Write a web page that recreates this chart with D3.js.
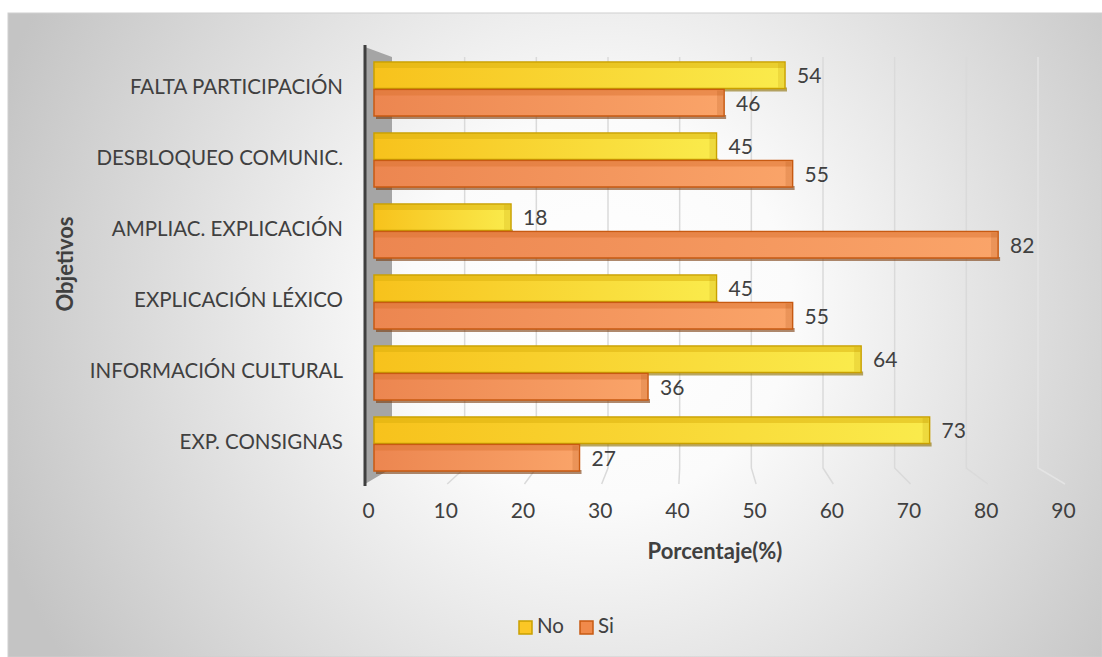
<!DOCTYPE html>
<html><head><meta charset="utf-8">
<script src="https://cdn.jsdelivr.net/npm/d3@7"></script>
<style>html,body{margin:0;padding:0;background:#fff;}svg{display:block;}</style>
</head><body><svg id="chart" width="1102" height="657"></svg>
<script>
const categories = ["FALTA PARTICIPACIÓN","DESBLOQUEO COMUNIC.","AMPLIAC. EXPLICACIÓN","EXPLICACIÓN LÉXICO","INFORMACIÓN CULTURAL","EXP. CONSIGNAS"];
const seriesNames = ["No","Si"];
const noValues = [54,45,18,45,64,73];
const siValues = [46,55,82,55,36,27];
const tickValues = [0,10,20,30,40,50,60,70,80,90];
const xTitle = "Porcentaje(%)";
const yTitle = "Objetivos";

const svg = d3.select("#chart");
const defs = svg.append("defs");
const W = 1102, H = 657;
const font = "Lato, 'Open Sans', sans-serif";

// background
const bg = defs.append("radialGradient").attr("id","bg").attr("gradientUnits","userSpaceOnUse")
  .attr("cx",600).attr("cy",310).attr("r",640);
bg.append("stop").attr("offset","0").attr("stop-color","#ffffff");
bg.append("stop").attr("offset","0.3").attr("stop-color","#fbfbfb");
bg.append("stop").attr("offset","1").attr("stop-color","#c4c4c4");
svg.append("rect").attr("x",8).attr("y",13).attr("width",W-8).attr("height",H-13)
  .attr("fill","url(#bg)").attr("stroke","#cfcfcf").attr("stroke-width",1);

// scales
const xBar = d3.scaleLinear().domain([0,90]).range([374,1059]);
const xBack = d3.scaleLinear().domain([0,90]).range([393,1038]);
const xFront = d3.scaleLinear().domain([0,90]).range([368,1063]);
const y = d3.scaleBand().domain(categories).range([54,480]).paddingInner(16/71).paddingOuter(8/71);
const ys = d3.scaleBand().domain(seriesNames).range([0,y.bandwidth()]);
const backTop = 57, backBottom = 468, frontBottom = 484;

// gridlines (back wall + floor)
const grid = svg.append("g");
tickValues.forEach(v => {
  if (v === 0) return;
  grid.append("path")
    .attr("d", `M${xBack(v)},${backTop}L${xBack(v)},${backBottom}L${xFront(v)+2},${frontBottom}`)
    .attr("fill","none").attr("stroke", v===90 ? "#e4e4e4" : "#dadada").attr("stroke-width",1.5);
});

// side wall
svg.append("path").attr("d",`M365,47L${xBack(0)-1},${backTop}L${xBack(0)-1},${backBottom}L365,${frontBottom}Z`)
  .attr("fill","#a5a5a5");
svg.append("line").attr("x1",365).attr("x2",365).attr("y1",45).attr("y2",486)
  .attr("stroke","#3f3f3f").attr("stroke-width",3);

// gradients for bars
function lg(id, c0, c1) {
  const g = defs.append("linearGradient").attr("id",id).attr("x1","0").attr("x2","1").attr("y1","0").attr("y2","0");
  g.append("stop").attr("offset","0").attr("stop-color",c0);
  g.append("stop").attr("offset","1").attr("stop-color",c1);
}
lg("gNo","#f7c21c","#faeb4c");
lg("gSi","#ec8650","#faa469");
const style = {
  No: {fill:"url(#gNo)", stroke:"#c9a000", top:"#d8ac0c", side:"#b89100"},
  Si: {fill:"url(#gSi)", stroke:"#c75a12", top:"#d9702e", side:"#a9500f"}
};

const data = [];
categories.forEach((c,i) => {
  data.push({cat:c, s:"No", v:noValues[i]});
  data.push({cat:c, s:"Si", v:siValues[i]});
});

const bars = svg.append("g");
data.forEach(d => {
  const st = style[d.s];
  const y0 = y(d.cat) + ys(d.s), h = ys.bandwidth();
  const x0 = xBar(0), x1 = xBar(d.v);
  const g = bars.append("g");
  g.append("rect").attr("x",x0+2).attr("y",y0+h-2).attr("width",x1-x0).attr("height",4)
    .attr("fill", d.s==="Si" ? "#7a3a0c" : "#8a6d00").attr("opacity",0.6);
  g.append("rect").attr("x",x0).attr("y",y0).attr("width",x1-x0).attr("height",h-1)
    .attr("fill",st.fill).attr("stroke",st.stroke).attr("stroke-width",1.5);
  g.append("rect").attr("x",x0+1).attr("y",y0+1).attr("width",x1-x0-2).attr("height",5)
    .attr("fill",st.top).attr("opacity",0.45);
  g.append("rect").attr("x",x1-7).attr("y",y0+1).attr("width",6).attr("height",h-3)
    .attr("fill",st.side).attr("opacity",0.18);
  svg.append("text").attr("x",x1+12).attr("y",y0+h/2+2).attr("dominant-baseline","middle")
    .attr("font-family",font).attr("font-size",21).attr("fill","#404040").text(d.v);
});

// category labels
svg.append("g").selectAll("text").data(categories).join("text")
  .attr("x",343).attr("y",d => y(d)+y.bandwidth()/2-1).attr("text-anchor","end")
  .attr("dominant-baseline","middle").attr("font-family",font).attr("font-size",20.5)
  .attr("fill","#404040").text(d => d);

// x tick labels
const xAxis = d3.axisBottom(xFront).tickValues(tickValues).tickSize(0).tickPadding(0);
const gx = svg.append("g").attr("transform","translate(0,503)").call(xAxis);
gx.select(".domain").remove();
gx.selectAll("text").attr("font-family",font).attr("font-size",21).attr("fill","#404040");

// axis titles
svg.append("text").attr("x",715).attr("y",553).attr("text-anchor","middle").attr("dominant-baseline","middle")
  .attr("font-family",font).attr("font-size",22).attr("font-weight","bold").attr("fill","#404040").text(xTitle);
svg.append("text").attr("transform","translate(67,264) rotate(-90)").attr("text-anchor","middle")
  .attr("dominant-baseline","middle").attr("font-family",font).attr("font-size",22).attr("font-weight","bold")
  .attr("fill","#404040").text(yTitle);

// legend
const legend = svg.append("g");
const legX = [519, 580];
seriesNames.forEach((s,i) => {
  legend.append("rect").attr("x",legX[i]).attr("y",621).attr("width",13).attr("height",13)
    .attr("fill", s==="No" ? "#fcc725" : "#f08a4b").attr("stroke", style[s].stroke).attr("stroke-width",1.5);
  legend.append("text").attr("x",legX[i]+18).attr("y",628).attr("dominant-baseline","middle")
    .attr("font-family",font).attr("font-size",20.5).attr("fill","#404040").text(s);
});
</script></body></html>
